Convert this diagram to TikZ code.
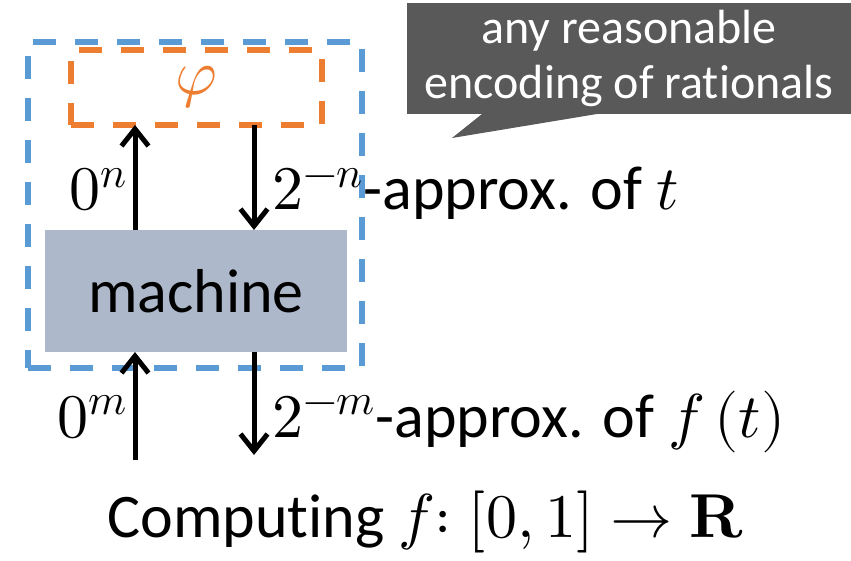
\documentclass[tikz,border=0pt]{standalone}
\usepackage{fontspec}
\usepackage{unicode-math}
\setmainfont{Carlito}[Ligatures=NoCommon]
\setmathfont{Latin Modern Math}
\usetikzlibrary{arrows.meta}
\definecolor{blueb}{HTML}{5B9BD5}
\definecolor{orangeb}{HTML}{ED7D31}
\definecolor{machfill}{HTML}{ADB9CA}
\definecolor{calloutc}{HTML}{595959}
\begin{document}
\begin{tikzpicture}[x=1pt,y=-1pt,
  dbox/.style={line width=5.5pt, dash pattern=on 23pt off 19pt, inner sep=0pt, outer sep=0pt, anchor=north west},
  arr/.style={line width=5pt, -{Straight Barb[length=17pt,width=27pt]}},
  lbl/.style={inner sep=0pt, font=\fontsize{62}{70}\selectfont},
]
\useasboundingbox (0,0) rectangle (851,561);
% outer blue dashed box
\node[dbox, draw=blueb, minimum width=334pt, minimum height=326pt] (outer) at (28,42) {};
% orange phi box
\node[dbox, draw=orangeb, minimum width=251pt, minimum height=75pt, text=orangeb,
  font=\fontsize{64}{70}\selectfont] (phi) at (71,50) {$\varphi$};
% machine
\node[fill=machfill, minimum width=302pt, minimum height=122pt, anchor=north west,
  inner sep=0pt, outer sep=0pt, font=\fontsize{62}{70}\selectfont] (machine) at (45,230) {machine};
% callout
\node[fill=calloutc, text=white, minimum width=444pt, minimum height=111pt, anchor=north west,
  inner sep=0pt, outer sep=0pt, align=center, font=\fontsize{48}{55}\selectfont] (call) at (407,3)
  {any reasonable\\encoding of rationals};
\coordinate (tip) at (452,138);
\fill[calloutc] ([xshift=75pt]call.south west) -- (tip) -- ([xshift=190pt]call.south west) -- cycle;
% arrow columns
\coordinate (lx) at (135,0);
\coordinate (rx) at (254,0);
\coordinate (lb) at (135,460);
\coordinate (rb) at (254,455);
\draw[arr] (machine.north -| lx) -- (phi.south -| lx);
\draw[arr] (phi.south -| rx) -- (machine.north -| rx);
\draw[arr] (lb) -- (machine.south -| lx);
\draw[arr] (machine.south -| rx) -- (rb);
% labels
\node[lbl, anchor=base east] (zn) at (127,210) {$0^n$};
\node[lbl, anchor=base west] (an) at (272,210) {$2^{-n}$-approx. of $t$};
\node[lbl, anchor=base east] (zm) at (127,437) {$0^m$};
\node[lbl, anchor=base west] (am) at (272,437) {$2^{-m}$-approx. of $f\,(t)$};
\node[lbl, anchor=base] (comp) at (426,537) {Computing $f{:}\;[0,1]\to\symbf{R}$};
\end{tikzpicture}
\end{document}
